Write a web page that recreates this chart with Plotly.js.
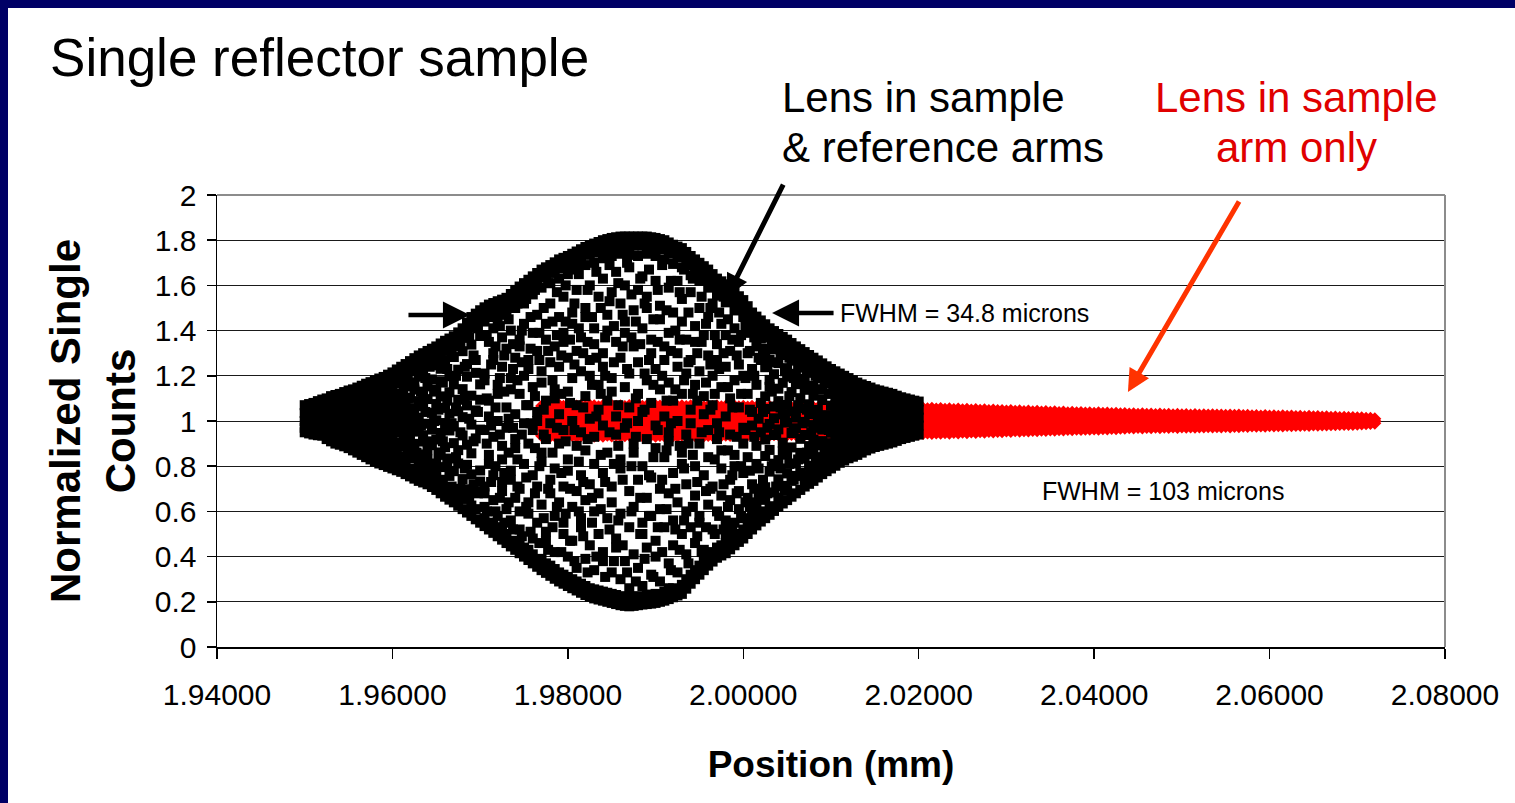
<!DOCTYPE html>
<html>
<head>
<meta charset="utf-8">
<script src="https://cdn.plot.ly/plotly-3.0.1.min.js"></script>
<style>
html,body{margin:0;padding:0;background:#000066;width:1515px;height:803px;overflow:hidden;}
#chart{position:absolute;left:8px;top:8px;width:1507px;height:795px;background:#fff;}
</style>
</head>
<body>
<div id="chart"></div>
<script>
// ---- tick values ----
const xTickVals = [1.94, 1.96, 1.98, 2.00, 2.02, 2.04, 2.06, 2.08];
const yTickVals = [0, 0.2, 0.4, 0.6, 0.8, 1, 1.2, 1.4, 1.6, 1.8, 2];

// ---- series 1: lens in sample & reference arms (black) ----
const blackX = [
1.9500,1.9505,1.9510,1.9515,1.9520,1.9525,1.9530,1.9535,1.9540,1.9545,1.9550,1.9555,1.9560,1.9565,1.9570,1.9575,1.9580,
1.9585,1.9590,1.9595,1.9600,1.9605,1.9610,1.9615,1.9620,1.9625,1.9630,1.9635,1.9640,1.9645,1.9650,1.9655,1.9660,1.9665,1.9670,1.9675,1.9680,1.9685,1.9690,1.9695,1.9700,
1.9705,1.9710,1.9715,1.9720,1.9725,1.9730,1.9735,1.9740,1.9745,1.9750,1.9755,1.9760,1.9765,1.9770,1.9775,1.9780,1.9785,
1.9790,1.9795,1.9800,1.9805,1.9810,1.9815,1.9820,1.9825,1.9830,1.9835,1.9840,1.9845,1.9850,1.9855,1.9860,1.9865,1.9870,1.9875,1.9880,1.9885,1.9890,1.9895,1.9900,
1.9905,1.9910,1.9915,1.9920,1.9925,1.9930,1.9935,1.9940,1.9945,1.9950,1.9955,1.9960,1.9965,1.9970,1.9975,1.9980,1.9985,1.9990,1.9995,2.0000,2.0005,2.0010,2.0015,2.0020,
2.0025,2.0030,2.0035,2.0040,2.0045,2.0050,2.0055,2.0060,2.0065,2.0070,2.0075,2.0080,2.0085,2.0090,2.0095,2.0100,
2.0105,2.0110,2.0115,2.0120,2.0125,2.0130,2.0135,2.0140,2.0145,2.0150,2.0155,2.0160,2.0165,2.0170,2.0175,2.0180,2.0185,2.0190,2.0195,2.0200
];
const blackY = [
[1.07,1.035,1.0,0.97,0.95],
[1.075,1.04,1.005,0.975,0.945],
[1.08,1.045,1.01,0.975,0.94],
[1.088,1.055,1.02,0.99,0.96,0.937],
[1.095,1.06,1.025,0.995,0.965,0.935],
[1.1,1.065,1.03,0.995,0.96,0.92],
[1.11,1.075,1.04,1.005,0.975,0.945,0.91],
[1.115,1.08,1.045,1.01,0.97,0.935,0.9],
[1.12,1.085,1.05,1.015,0.98,0.94,0.895],
[1.128,1.09,1.055,1.02,0.985,0.95,0.92,0.888],
[1.135,1.1,1.065,1.03,0.99,0.955,0.915,0.88],
[1.14,1.105,1.07,1.04,1.0,0.965,0.93,0.9,0.87],
[1.148,1.11,1.075,1.035,0.995,0.96,0.925,0.89,0.86],
[1.156,1.12,1.08,1.05,1.01,0.97,0.935,0.895,0.85],
[1.165,1.125,1.09,1.05,1.02,0.975,0.94,0.9,0.87,0.84],
[1.172,1.135,1.095,1.06,1.015,0.985,0.945,0.905,0.865,0.83],
[1.18,1.14,1.1,1.07,1.03,0.99,0.95,0.91,0.86,0.82],
[1.188,1.161,1.098,1.077,1.021,0.955,0.93,0.902,0.846,0.812],
[1.195,1.148,1.126,1.052,1.004,0.983,0.921,0.866,0.805],
[1.205,1.173,1.109,1.041,1.018,0.961,0.889,0.858,0.827,0.797],
[1.215,1.158,1.133,1.082,0.995,0.942,0.916,0.851,0.79],
[1.228,1.192,1.167,1.061,1.029,0.975,0.874,0.819,0.782],
[1.24,1.201,1.117,1.09,1.001,0.951,0.905,0.842,0.775],
[1.252,1.219,1.154,1.073,1.042,0.968,0.886,0.803,0.765],
[1.265,1.226,1.102,1.019,0.993,0.928,0.864,0.836,0.755],
[1.278,1.238,1.171,1.139,1.057,0.979,0.899,0.781,0.745],
[1.29,1.247,1.196,1.088,1.014,0.953,0.852,0.816,0.735],
[1.3,1.262,1.224,1.121,1.066,0.937,0.909,0.794,0.728],
[1.31,1.264,1.153,1.097,0.988,0.871,0.829,0.762,0.72],
[1.32,1.283,1.246,1.184,1.036,0.962,0.893,0.747,0.708],
[1.33,1.291,1.139,1.075,1.003,0.918,0.812,0.776,0.695],
[1.343,1.304,1.231,1.176,1.109,0.947,0.861,0.728,0.68],
[1.355,1.31,1.268,1.058,0.991,0.884,0.796,0.705,0.665],
[1.365,1.327,1.198,1.127,1.032,0.958,0.834,0.757,0.652],
[1.375,1.336,1.283,1.162,0.976,0.902,0.778,0.686,0.64],
[1.392,1.35,1.227,1.094,1.043,0.871,0.812,0.667,0.625],
[1.41,1.368,1.309,1.141,1.017,0.936,0.743,0.655,0.61],
[1.435,1.391,1.252,1.196,1.069,0.895,0.806,0.698,0.595],
[1.46,1.412,1.338,1.112,0.984,0.857,0.764,0.626,0.58],
[1.475,1.428,1.27,1.213,1.047,0.923,0.689,0.61,0.565],
[1.49,1.447,1.376,1.162,1.094,0.962,0.781,0.732,0.55],
[1.503,1.47,1.44,1.21,1.18,0.96,0.71,0.68,0.62,0.57,0.535],
[1.515,1.475,1.35,1.09,1.02,0.85,0.81,0.55,0.52],
[1.522,1.49,1.41,1.3,1.27,0.93,0.76,0.65,0.54,0.505],
[1.53,1.49,1.45,1.16,1.12,1.0,0.58,0.53,0.49],
[1.537,1.5,1.37,1.24,0.89,0.83,0.73,0.69,0.51,0.475],
[1.545,1.51,1.47,1.32,1.06,0.97,0.61,0.5,0.46],
[1.562,1.52,1.4,1.19,1.14,0.78,0.74,0.56,0.445],
[1.58,1.545,1.5,1.28,1.03,0.92,0.88,0.66,0.47,0.43],
[1.595,1.555,1.36,1.33,1.12,0.7,0.6,0.52,0.455,0.415],
[1.61,1.575,1.52,1.43,1.2,0.99,0.81,0.44,0.4],
[1.625,1.585,1.27,1.23,1.07,0.9,0.64,0.59,0.43,0.385],
[1.64,1.605,1.56,1.39,1.15,0.96,0.76,0.48,0.41,0.37],
[1.655,1.615,1.47,1.31,1.04,1.0,0.71,0.55,0.355],
[1.67,1.635,1.59,1.22,1.17,0.86,0.82,0.63,0.39,0.34],
[1.68,1.64,1.43,1.36,1.09,0.92,0.51,0.47,0.37,0.328],
[1.69,1.655,1.61,1.52,1.26,0.99,0.74,0.68,0.36,0.315],
[1.702,1.665,1.33,1.14,1.1,0.79,0.58,0.42,0.345,0.302],
[1.715,1.675,1.63,1.46,1.24,1.03,0.9,0.64,0.33,0.29],
[1.722,1.685,1.55,1.39,1.35,0.96,0.71,0.55,0.5,0.32,0.28],
[1.73,1.69,1.65,1.28,1.13,0.83,0.78,0.4,0.31,0.27],
[1.74,1.7,1.48,1.43,1.19,1.0,0.62,0.47,0.3,0.26],
[1.75,1.71,1.67,1.58,1.31,1.07,0.89,0.69,0.35,0.29,0.25],
[1.76,1.72,1.37,1.22,0.95,0.76,0.57,0.53,0.28,0.24],
[1.77,1.735,1.69,1.5,1.46,1.11,0.87,0.65,0.39,0.27,0.23],
[1.778,1.74,1.6,1.27,1.2,1.01,0.72,0.45,0.26,0.222],
[1.785,1.745,1.7,1.41,1.34,0.93,0.81,0.6,0.34,0.255,0.215],
[1.792,1.755,1.55,1.16,1.05,0.68,0.5,0.25,0.21],
[1.8,1.76,1.72,1.63,1.3,1.24,0.98,0.77,0.42,0.38,0.245,0.205],
[1.805,1.765,1.47,1.4,1.09,0.86,0.57,0.24,0.2],
[1.81,1.77,1.73,1.57,1.19,1.13,0.71,0.64,0.33,0.235,0.195],
[1.813,1.775,1.66,1.35,1.02,0.94,0.48,0.44,0.23,0.19],
[1.816,1.78,1.74,1.52,1.28,0.83,0.79,0.59,0.3,0.225,0.185],
[1.816,1.777,1.6,1.44,1.39,1.15,0.97,0.38,0.22,0.182],
[1.816,1.778,1.735,1.68,1.21,1.06,0.69,0.53,0.26,0.22,0.18],
[1.816,1.776,1.49,1.33,0.9,0.86,0.62,0.41,0.222,0.182],
[1.816,1.777,1.73,1.58,1.26,1.12,1.0,0.74,0.35,0.225,0.185],
[1.816,1.776,1.64,1.41,1.04,0.8,0.55,0.5,0.27,0.188],
[1.816,1.778,1.74,1.55,1.5,1.18,0.92,0.66,0.44,0.23,0.19],
[1.813,1.775,1.36,1.3,1.08,0.75,0.58,0.32,0.232,0.192],
[1.81,1.77,1.73,1.62,1.23,0.98,0.88,0.47,0.4,0.235,0.195],
[1.805,1.765,1.51,1.45,1.14,0.7,0.61,0.29,0.2],
[1.8,1.76,1.715,1.33,1.27,1.02,0.84,0.53,0.245,0.205],
[1.79,1.75,1.59,1.39,1.17,0.95,0.91,0.68,0.37,0.26,0.212],
[1.78,1.74,1.695,1.48,1.09,0.77,0.56,0.45,0.26,0.22],
[1.772,1.735,1.62,1.3,1.24,1.0,0.64,0.33,0.228],
[1.765,1.725,1.68,1.54,1.44,1.12,0.86,0.81,0.5,0.275,0.235],
[1.748,1.71,1.36,1.21,0.94,0.72,0.6,0.41,0.3,0.258],
[1.73,1.69,1.645,1.57,1.27,1.05,0.99,0.53,0.32,0.28],
[1.715,1.675,1.42,1.35,1.16,0.8,0.67,0.46,0.34,0.3],
[1.7,1.66,1.62,1.5,1.22,0.9,0.58,0.55,0.36,0.32],
[1.685,1.645,1.38,1.11,1.03,0.76,0.43,0.38,0.34],
[1.67,1.63,1.59,1.46,1.29,0.96,0.84,0.63,0.4,0.36],
[1.65,1.61,1.52,1.2,1.07,0.71,0.52,0.42,0.378],
[1.63,1.595,1.555,1.34,1.27,0.99,0.92,0.6,0.44,0.395],
[1.618,1.58,1.43,1.15,0.87,0.79,0.67,0.45,0.405],
[1.605,1.565,1.525,1.38,1.24,1.02,0.56,0.5,0.46,0.415],
[1.588,1.55,1.31,1.1,0.94,0.74,0.65,0.475,0.432],
[1.57,1.53,1.49,1.41,1.18,0.85,0.8,0.55,0.5,0.45],
[1.552,1.515,1.35,1.25,1.06,0.69,0.61,0.465],
[1.535,1.495,1.46,1.2,0.97,0.9,0.77,0.57,0.52,0.48],
[1.508,1.47,1.39,1.3,1.12,0.84,0.66,0.54,0.5],
[1.48,1.44,1.4,1.23,1.04,0.98,0.72,0.6,0.56,0.52],
[1.462,1.425,1.33,1.16,0.89,0.81,0.64,0.58,0.538],
[1.445,1.405,1.365,1.27,1.08,0.95,0.7,0.6,0.555],
[1.428,1.387,1.299,1.238,1.109,1.053,0.918,0.845,0.707,0.651,0.57],
[1.41,1.369,1.271,1.182,1.151,0.987,0.872,0.776,0.623,0.585],
[1.398,1.352,1.317,1.207,1.064,1.012,0.938,0.811,0.684,0.602],
[1.385,1.346,1.256,1.143,1.088,0.963,0.827,0.742,0.662,0.62],
[1.372,1.33,1.292,1.169,1.029,0.904,0.866,0.713,0.635],
[1.36,1.318,1.234,1.196,1.071,0.993,0.851,0.768,0.693,0.65],
[1.345,1.306,1.267,1.128,1.042,0.947,0.883,0.735,0.665],
[1.33,1.289,1.209,1.163,1.015,0.968,0.812,0.757,0.68],
[1.318,1.274,1.236,1.101,1.057,0.921,0.859,0.772,0.695],
[1.305,1.266,1.187,1.138,0.996,0.938,0.833,0.751,0.71],
[1.292,1.25,1.213,1.074,1.031,0.889,0.801,0.722],
[1.28,1.241,1.156,1.112,0.982,0.917,0.854,0.776,0.735],
[1.268,1.226,1.19,1.049,1.004,0.893,0.822,0.75],
[1.255,1.217,1.138,1.093,0.962,0.911,0.838,0.765],
[1.242,1.203,1.167,1.026,0.981,0.873,0.81,0.778],
[1.23,1.191,1.122,1.068,0.948,0.902,0.831,0.79],
[1.22,1.185,1.15,1.11,1.07,1.03,0.99,0.95,0.91,0.87,0.835,0.802],
[1.21,1.175,1.14,1.1,1.06,1.02,0.98,0.94,0.9,0.86,0.815],
[1.2,1.165,1.13,1.09,1.05,1.01,0.97,0.93,0.89,0.86,0.825],
[1.19,1.155,1.12,1.08,1.04,1.0,0.96,0.92,0.88,0.835],
[1.18,1.145,1.11,1.07,1.03,0.99,0.95,0.915,0.88,0.842],
[1.17,1.135,1.1,1.06,1.02,0.98,0.95,0.92,0.885,0.85],
[1.162,1.125,1.09,1.055,1.02,0.985,0.95,0.92,0.89,0.86],
[1.155,1.12,1.085,1.05,1.015,0.98,0.945,0.91,0.87],
[1.148,1.115,1.08,1.045,1.01,0.975,0.94,0.91,0.878],
[1.14,1.105,1.07,1.035,1.0,0.965,0.93,0.885],
[1.135,1.1,1.065,1.03,0.995,0.96,0.925,0.89],
[1.13,1.095,1.06,1.025,0.99,0.96,0.93,0.895],
[1.125,1.09,1.055,1.02,0.985,0.95,0.925,0.9],
[1.12,1.085,1.05,1.015,0.98,0.945,0.905],
[1.112,1.08,1.045,1.01,0.975,0.945,0.912],
[1.105,1.07,1.035,1.0,0.965,0.94,0.92],
[1.1,1.065,1.03,0.995,0.96,0.925],
[1.095,1.06,1.025,0.99,0.96,0.93],
[1.09,1.055,1.02,0.985,0.955,0.935],
[1.086,1.05,1.015,0.98,0.94]
];
// further readings of the same series between the scan positions above
const blackX2 = [
1.95875,1.95925,1.95975,1.96025,1.96075,1.96125,1.96175,1.96225,1.96275,1.96325,1.96375,1.96425,
1.96475,1.96525,1.96575,1.96625,1.96675,1.96725,1.96775,1.96825,1.96875,1.96925,1.96975,
1.97075,1.97125,1.97175,1.97225,1.97275,1.97325,1.97375,1.97425,1.97475,1.97525,
1.97575,1.97625,1.97675,1.97725,1.97775,1.97825,1.97875,1.97925,1.97975,1.98025,
1.98075,1.98125,1.98175,1.98225,1.98275,1.98325,1.98375,1.98425,1.98475,1.98525,
1.98575,1.98625,1.98675,1.98725,1.98775,1.98825,1.98875,1.98925,1.98975,1.99025,
1.99075,1.99125,1.99175,1.99225,1.99275,1.99325,1.99375,1.99425,1.99475,1.99525,
1.99575,1.99625,1.99675,1.99725,1.99775,1.99825,1.99875,1.99925,1.99975,2.00025,
2.00075,2.00125,2.00175,2.00225,2.00275,2.00325,2.00375,2.00425,2.00475,2.00525,
2.00575,2.00625,2.00675,2.00725,2.00775,2.00825,2.00875,2.00925,2.00975,2.01025
];
const blackY2 = [
[1.13,0.99,0.88],[1.07,0.96,0.84],[1.15,1.03,0.87],[1.12,0.97,0.82],[1.18,1.04,0.9],[1.13,0.93,0.8],
[1.19,1.1,0.85],[1.16,0.96,0.79],[1.22,1.01,0.86],[1.13,0.98,0.77],[1.19,1.04,0.85],[1.24,0.91,0.8],
[1.13,1.0,0.76],[1.26,1.05,0.85],[1.17,0.91,0.74],[1.23,1.09,0.82],[1.3,0.99,0.71],[1.2,1.06,0.84],
[1.33,0.95,0.7],[1.24,1.1,0.79],[1.37,1.01,0.66],[1.29,0.91,0.72],[1.41,1.04,0.68],
[1.38,1.1,0.9,0.6],[1.46,1.25,0.98,0.73],[1.33,1.06,0.8,0.6],[1.42,1.19,0.94,0.66],[1.29,1.13,0.77,0.55],
[1.45,1.01,0.86,0.64],[1.34,1.23,0.97,0.52],[1.52,1.18,0.83,0.71],[1.4,1.26,0.94,0.49],[1.54,1.07,0.75,0.62],
[1.46,1.32,0.99,0.51],[1.58,1.11,0.88,0.68],[1.39,1.27,0.8,0.46],[1.5,1.05,0.94,0.57],[1.61,1.31,0.7,0.43],
[1.44,1.18,0.86,0.53],[1.57,1.38,0.97,0.62],[1.29,1.12,0.77,0.42],[1.6,1.44,0.91,0.59],[1.36,1.08,0.7,0.47],
[1.52,1.25,0.96,0.38],[1.65,1.41,0.82,0.6],[1.3,1.06,0.73,0.49],[1.58,1.35,0.92,0.33],[1.46,1.16,0.66,0.55],
[1.66,1.28,1.02,0.4],[1.5,1.12,0.85,0.61],[1.37,1.2,0.73,0.31],[1.69,1.53,0.95,0.52],[1.42,1.26,0.81,0.38],
[1.61,1.07,0.89,0.56],[1.47,1.33,0.74,0.45],[1.7,1.23,0.99,0.33],[1.56,1.37,0.8,0.6],[1.44,1.1,0.93,0.29],
[1.63,1.34,0.66,0.5],[1.52,1.21,1.05,0.39],[1.67,1.27,0.76,0.58],[1.45,1.16,0.84,0.31],[1.58,1.35,0.96,0.53],
[1.69,1.2,0.74,0.42],[1.49,1.09,0.87,0.61],[1.62,1.31,0.99,0.34],[1.4,1.14,0.7,0.52],[1.57,1.36,0.89,0.43],
[1.67,1.18,0.79,0.56],[1.48,1.26,0.9,0.37],[1.63,1.12,0.85,0.62],[1.3,1.09,0.73,0.49],[1.55,1.35,0.95,0.42],
[1.43,1.17,0.69,0.53],[1.5,1.25,1.05,0.7],[1.38,1.12,0.83,0.5],[1.48,1.23,0.95,0.58],[1.55,1.3,0.72,0.52],
[1.45,1.15,0.87,0.62],[1.36,1.06,0.76,0.54],[1.49,1.29,0.93,0.68],[1.38,1.12,0.8,0.58],[1.42,1.19,0.96,0.64],
[1.31,1.05,0.78,0.62],[1.37,1.2,0.93,0.7],[1.28,1.01,0.79,0.67],[1.32,1.04,0.74],[1.24,0.97,0.68],
[1.33,1.13,0.8],[1.26,0.94,0.71],[1.3,1.06,0.79],[1.22,1.0,0.7],[1.28,1.11,0.81],
[1.19,0.96,0.74],[1.25,1.07,0.83],[1.17,0.99,0.76],[1.22,1.05,0.86],[1.15,0.95,0.78],
[1.2,1.03,0.84],[1.14,0.97,0.8],[1.18,1.01,0.87],[1.12,0.96,0.82],[1.16,1.0,0.86]
];

// ---- series 2: lens in sample arm only (red) ----
const redX = [
1.9770,1.9775,1.9780,1.9785,1.9790,1.9795,1.9800,1.9805,1.9810,1.9815,1.9820,1.9825,1.9830,1.9835,1.9840,1.9845,1.9850,1.9855,1.9860,1.9865,1.9870,1.9875,1.9880,1.9885,
1.9890,1.9895,1.9900,1.9905,1.9910,1.9915,1.9920,1.9925,1.9930,1.9935,1.9940,1.9945,1.9950,1.9955,1.9960,1.9965,1.9970,1.9975,1.9980,1.9985,1.9990,1.9995,2.0000,
2.0005,2.0010,2.0015,2.0020,2.0025,2.0030,2.0035,2.0040,2.0045,2.0050,2.0055,2.0060,2.0065,2.0070,2.0075,2.0080,2.0085,2.0090,2.0095,2.0100,
2.0105,2.0110,2.0115,2.0120,2.0125,2.0130,2.0135,2.0140,2.0145,2.0150,2.0155,2.0160,2.0165,2.0170,2.0175,2.0180,2.0185,2.0190,2.0195,2.0200,
2.0205,2.0210,2.0215,2.0220,2.0225,2.0230,2.0235,2.0240,2.0245,2.0250,2.0255,2.0260,2.0265,2.0270,2.0275,2.0280,2.0285,2.0290,2.0295,2.0300,
2.0305,2.0310,2.0315,2.0320,2.0325,2.0330,2.0335,2.0340,2.0345,2.0350,2.0355,2.0360,2.0365,2.0370,2.0375,2.0380,2.0385,2.0390,2.0395,2.0400,2.0405,2.0410,2.0415,2.0420,2.0425,2.0430,2.0435,2.0440,2.0445,2.0450,
2.0455,2.0460,2.0465,2.0470,2.0475,2.0480,2.0485,2.0490,2.0495,2.0500,2.0505,2.0510,2.0515,2.0520,2.0525,2.0530,2.0535,2.0540,2.0545,2.0550,2.0555,2.0560,2.0565,2.0570,2.0575,2.0580,2.0585,2.0590,2.0595,2.0600,
2.0605,2.0610,2.0615,2.0620,2.0625,2.0630,2.0635,2.0640,2.0645,2.0650,2.0655,2.0660,2.0665,2.0670,2.0675,2.0680,2.0685,2.0690,2.0695,2.0700,2.0705,2.0710,2.0715,2.0720
];
const redY = [
[1.066,1.032,1.0,0.967,0.935],[1.07,1.036,1.003,0.97,0.938],[1.063,1.03,0.997,0.964,0.932],[1.068,1.034,1.001,0.968,0.934],
[1.071,1.037,1.004,0.97,0.936],[1.065,1.031,0.999,0.966,0.937],[1.068,1.034,1.001,0.967,0.933],[1.071,1.037,1.003,0.969,0.936],
[1.066,1.032,0.999,0.965,0.931],[1.069,1.035,1.002,0.968,0.935],[1.064,1.031,0.998,0.966,0.934],[1.07,1.036,1.003,0.969,0.937],
[1.067,1.033,1.0,0.966,0.933],[1.063,1.03,0.998,0.965,0.936],[1.069,1.035,1.002,0.968,0.932],[1.066,1.032,1.0,0.967,0.937],
[1.07,1.036,1.003,0.969,0.934],[1.065,1.031,0.999,0.966,0.936],[1.068,1.034,1.001,0.968,0.933],[1.064,1.031,0.998,0.965,0.935],
[1.069,1.035,1.002,0.969,0.937],[1.066,1.032,1.0,0.966,0.932],[1.07,1.036,1.003,0.969,0.936],[1.065,1.031,0.999,0.966,0.934],
[1.068,1.034,1.001,0.967,0.935],[1.063,1.03,0.998,0.965,0.937],[1.069,1.035,1.002,0.968,0.933],[1.066,1.032,1.0,0.967,0.936],
[1.068,1.034,1.001,0.968,0.934],[1.064,1.031,0.999,0.966,0.936],[1.069,1.035,1.002,0.969,0.935],[1.065,1.032,1.0,0.966,0.933],
[1.068,1.034,1.001,0.968,0.937],[1.064,1.031,0.998,0.965,0.934],[1.067,1.033,1.0,0.967,0.936],[1.065,1.031,0.999,0.966,0.935],
[1.068,1.034,1.002,0.968,0.937],[1.063,1.03,0.998,0.965,0.934],[1.066,1.033,1.0,0.967,0.936],[1.064,1.031,0.999,0.966,0.935],
[1.067,1.033,1.001,0.968,0.937],[1.063,1.03,0.998,0.966,0.935],[1.066,1.032,1.0,0.967,0.937],[1.064,1.031,0.999,0.966,0.936],
[1.066,1.033,1.001,0.968,0.938],[1.063,1.03,0.998,0.966,0.935],[1.065,1.032,1.0,0.967,0.937],
[1.062,1.03,0.999,0.967,0.938],[1.065,1.032,1.0,0.968,0.936],[1.062,1.03,0.998,0.966,0.939],[1.064,1.031,1.0,0.968,0.937],
[1.061,1.029,0.999,0.967,0.939],[1.064,1.031,1.0,0.968,0.937],[1.061,1.029,0.998,0.966,0.939],[1.063,1.031,1.0,0.968,0.938],
[1.06,1.029,0.999,0.967,0.94],[1.063,1.031,1.0,0.968,0.938],[1.06,1.028,0.998,0.967,0.94],[1.062,1.03,1.0,0.969,0.939],
[1.06,1.028,0.999,0.968,0.94],[1.062,1.03,1.0,0.969,0.939],[1.059,1.028,0.999,0.968,0.941],[1.061,1.03,1.0,0.969,0.939],
[1.059,1.028,0.998,0.968,0.941],[1.061,1.03,1.0,0.969,0.94],[1.058,1.027,0.999,0.969,0.942],[1.061,1.029,1.0,0.97,0.94],
[1.058,1.027,0.999,0.969,0.942],[1.06,1.029,1.0,0.97,0.941],[1.058,1.027,0.999,0.969,0.942],[1.06,1.029,1.0,0.97,0.941],
[1.057,1.027,0.999,0.97,0.943],[1.06,1.029,1.0,0.97,0.941],[1.057,1.026,0.998,0.969,0.943],[1.059,1.028,1.0,0.97,0.942],
[1.057,1.027,0.999,0.97,0.944],[1.059,1.028,1.0,0.971,0.942],[1.056,1.026,0.999,0.97,0.944],[1.059,1.028,1.0,0.971,0.942],
[1.056,1.026,0.999,0.971,0.944],[1.058,1.028,1.0,0.971,0.943],[1.056,1.026,0.999,0.97,0.945],[1.058,1.027,1.0,0.971,0.943],
[1.055,1.026,0.999,0.971,0.945],[1.058,1.027,1.0,0.972,0.943],[1.055,1.026,0.999,0.971,0.945],[1.057,1.027,1.0,0.972,0.944],
[1.056,1.019,0.982,0.945],[1.054,1.018,0.982,0.947],[1.056,1.019,0.981,0.945],[1.053,1.018,0.982,0.947],
[1.055,1.018,0.982,0.946],[1.052,1.017,0.983,0.948],[1.054,1.018,0.982,0.946],[1.051,1.017,0.983,0.949],
[1.053,1.018,0.982,0.947],[1.05,1.017,0.983,0.95],[1.052,1.017,0.983,0.948],[1.049,1.016,0.984,0.951],
[1.051,1.017,0.983,0.949],[1.048,1.016,0.984,0.952],[1.05,1.017,0.983,0.95],[1.047,1.016,0.984,0.953],
[1.049,1.016,0.984,0.951],[1.046,1.015,0.985,0.954],[1.047,1.016,0.984,0.952],[1.044,1.015,0.985,0.956],
[1.046,1.015,0.985,0.954],[1.043,1.014,0.986,0.957],[1.045,1.015,0.985,0.955],[1.042,1.014,0.986,0.957],
[1.044,1.015,0.986,0.956],[1.041,1.014,0.986,0.958],[1.043,1.014,0.986,0.957],[1.04,1.013,0.987,0.959],
[1.042,1.014,0.986,0.958],[1.039,1.013,0.987,0.96],[1.041,1.014,0.987,0.959],[1.038,1.013,0.987,0.961],
[1.04,1.013,0.987,0.96],[1.037,1.012,0.988,0.962],[1.039,1.013,0.987,0.961],[1.036,1.012,0.988,0.963],
[1.038,1.013,0.988,0.962],[1.035,1.012,0.988,0.964],[1.037,1.012,0.988,0.963],[1.034,1.011,0.989,0.965],
[1.036,1.012,0.988,0.964],[1.034,1.011,0.989,0.966],[1.035,1.012,0.989,0.965],[1.033,1.011,0.989,0.967],
[1.034,1.011,0.989,0.966],[1.032,1.011,0.99,0.968],
[1.033,1.0,0.968],[1.031,1.001,0.97],[1.032,1.0,0.969],[1.03,1.001,0.971],[1.032,1.0,0.969],[1.03,1.001,0.971],
[1.031,1.0,0.97],[1.029,1.001,0.972],[1.031,1.0,0.97],[1.029,1.001,0.972],[1.03,1.0,0.971],[1.028,1.001,0.973],
[1.03,1.0,0.971],[1.028,1.001,0.973],[1.029,1.0,0.972],[1.027,1.001,0.974],[1.029,1.0,0.972],[1.027,1.001,0.974],
[1.028,1.0,0.973],[1.026,1.001,0.975],[1.028,1.0,0.973],[1.026,1.001,0.975],[1.027,1.0,0.974],[1.025,1.001,0.976],
[1.027,1.0,0.974],[1.025,1.001,0.976],[1.026,1.0,0.975],[1.024,1.001,0.977],[1.025,1.0,0.976],[1.023,1.001,0.978],
[1.024,1.0,0.977],[1.022,1.001,0.978],[1.024,1.0,0.977],[1.022,1.001,0.979],[1.023,1.0,0.978],[1.021,1.001,0.979],
[1.023,1.0,0.978],[1.021,1.001,0.98],[1.022,1.0,0.979],[1.02,1.001,0.98],[1.021,1.0,0.98],[1.019,1.001,0.981],
[1.021,1.0,0.98],[1.019,1.001,0.982],[1.02,1.0,0.981],[1.018,1.001,0.982],[1.019,1.0,0.982],[1.017,1.001,0.983],
[1.018,1.0,0.983],[1.016,1.001,0.984],[1.017,1.0,0.984],[1.015,1.001,0.985],[1.016,1.0,0.985],[1.014,1.001,0.986],
[1.014,1.0,0.987],[1.012,1.001,0.988],[1.012,1.0,0.989],[1.01,1.0,0.99]
];

function flatten(xs, ys) {
  const X = [], Y = [];
  xs.forEach((x, i) => ys[i].forEach(y => { X.push(x); Y.push(y); }));
  return [X, Y];
}
const [bx1, by1] = flatten(blackX, blackY);
const [bx2, by2] = flatten(blackX2, blackY2);
const bx = bx1.concat(bx2), by = by1.concat(by2);
const [rx, ry] = flatten(redX, redY);

const FONT = 'Liberation Sans, Arial, sans-serif';

const traces = [
  { type: 'scatter', mode: 'markers', name: 'Lens in sample arm only', x: rx, y: ry,
    marker: { symbol: 'diamond', size: 10, color: '#ff0000', line: { width: 0 } }, hoverinfo: 'x+y' },
  { type: 'scatter', mode: 'markers', name: 'Lens in sample & reference arms', x: bx, y: by,
    marker: { symbol: 'square', size: 10, color: '#000000', line: { width: 0 } }, hoverinfo: 'x+y' }
];

const layout = {
  width: 1507, height: 795,
  margin: { l: 209, r: 70, t: 187, b: 156 },
  paper_bgcolor: '#ffffff', plot_bgcolor: '#ffffff',
  showlegend: false,
  font: { family: FONT, color: '#000' },
  title: { text: 'Single reflector sample', font: { family: FONT, size: 53, color: '#000' },
    x: 0.0279, xanchor: 'left', xref: 'container', y: 0.9384, yanchor: 'middle', yref: 'container' },
  xaxis: {
    range: [1.94, 2.08], tickvals: xTickVals, tickformat: '.5f',
    showgrid: false, zeroline: false,
    showline: true, linecolor: '#000', linewidth: 1.5,
    ticks: 'outside', ticklen: 10, tickcolor: '#000', tickwidth: 1.5,
    tickfont: { family: FONT, size: 30, color: '#000' }, ticklabelstandoff: 10,
    title: { text: '<b>Position (mm)</b>', font: { family: FONT, size: 37, color: '#000' }, standoff: 41 }
  },
  yaxis: {
    range: [0, 2], tickvals: yTickVals,
    showgrid: true, gridcolor: '#1a1a1a', gridwidth: 1, zeroline: false,
    showline: true, linecolor: '#000', linewidth: 1.5,
    ticks: 'outside', ticklen: 9, tickcolor: '#000', tickwidth: 1.5,
    tickfont: { family: FONT, size: 30, color: '#000' }, ticklabelstandoff: 4,
    title: { text: '<b>Normalized Single<br>Counts</b>', font: { family: FONT, size: 42, color: '#000' }, standoff: 6 }
  },
  shapes: [
    { type: 'line', xref: 'paper', yref: 'paper', x0: 0, x1: 1, y0: 1, y1: 1, line: { color: '#8c8c8c', width: 2 }, layer: 'above' },
    { type: 'line', xref: 'paper', yref: 'paper', x0: 1, x1: 1, y0: 0, y1: 1, line: { color: '#8c8c8c', width: 2 }, layer: 'above' }
  ],
  annotations: [
    { text: 'Lens in sample', xref: 'paper', yref: 'paper', x: 0.4585, y: 1.2168, xanchor: 'left', yanchor: 'middle',
      showarrow: false, font: { family: FONT, size: 42, color: '#000' } },
    { text: '&amp; reference arms', xref: 'paper', yref: 'paper', x: 0.4585, y: 1.104, xanchor: 'left', yanchor: 'middle',
      showarrow: false, font: { family: FONT, size: 42, color: '#000' } },
    { text: 'Lens in sample', xref: 'paper', yref: 'paper', x: 0.8787, y: 1.2168, xanchor: 'center', yanchor: 'middle',
      showarrow: false, font: { family: FONT, size: 42, color: '#e00000' } },
    { text: 'arm only', xref: 'paper', yref: 'paper', x: 0.8787, y: 1.104, xanchor: 'center', yanchor: 'middle',
      showarrow: false, font: { family: FONT, size: 42, color: '#e00000' } },
    { text: 'FWHM = 34.8 microns', xref: 'paper', yref: 'paper', x: 0.5057, y: 0.7389, xanchor: 'left', yanchor: 'middle',
      showarrow: false, font: { family: FONT, size: 25, color: '#000' } },
    { text: 'FWHM = 103 microns', xref: 'paper', yref: 'paper', x: 0.6702, y: 0.3451, xanchor: 'left', yanchor: 'middle',
      showarrow: false, font: { family: FONT, size: 25, color: '#000' } },
    { text: '', xref: 'paper', yref: 'paper', x: 0.4153, y: 0.7743, ax: 57, ay: -114,
      showarrow: true, arrowhead: 2, arrowsize: 0.9, arrowwidth: 5, arrowcolor: '#000' },
    { text: '', xref: 'paper', yref: 'paper', x: 0.7418, y: 0.5642, ax: 112, ay: -192,
      showarrow: true, arrowhead: 2, arrowsize: 0.9, arrowwidth: 5, arrowcolor: '#ff3300' },
    { text: '', xref: 'paper', yref: 'paper', x: 0.2060, y: 0.7345, ax: -63, ay: 0,
      showarrow: true, arrowhead: 2, arrowsize: 1.2, arrowwidth: 4.5, arrowcolor: '#000' },
    { text: '', xref: 'paper', yref: 'paper', x: 0.4520, y: 0.7389, ax: 63, ay: 0,
      showarrow: true, arrowhead: 2, arrowsize: 1.2, arrowwidth: 4.5, arrowcolor: '#000' }
  ]
};

Plotly.newPlot('chart', traces, layout, { displayModeBar: false, staticPlot: true });
</script>
</body>
</html>
